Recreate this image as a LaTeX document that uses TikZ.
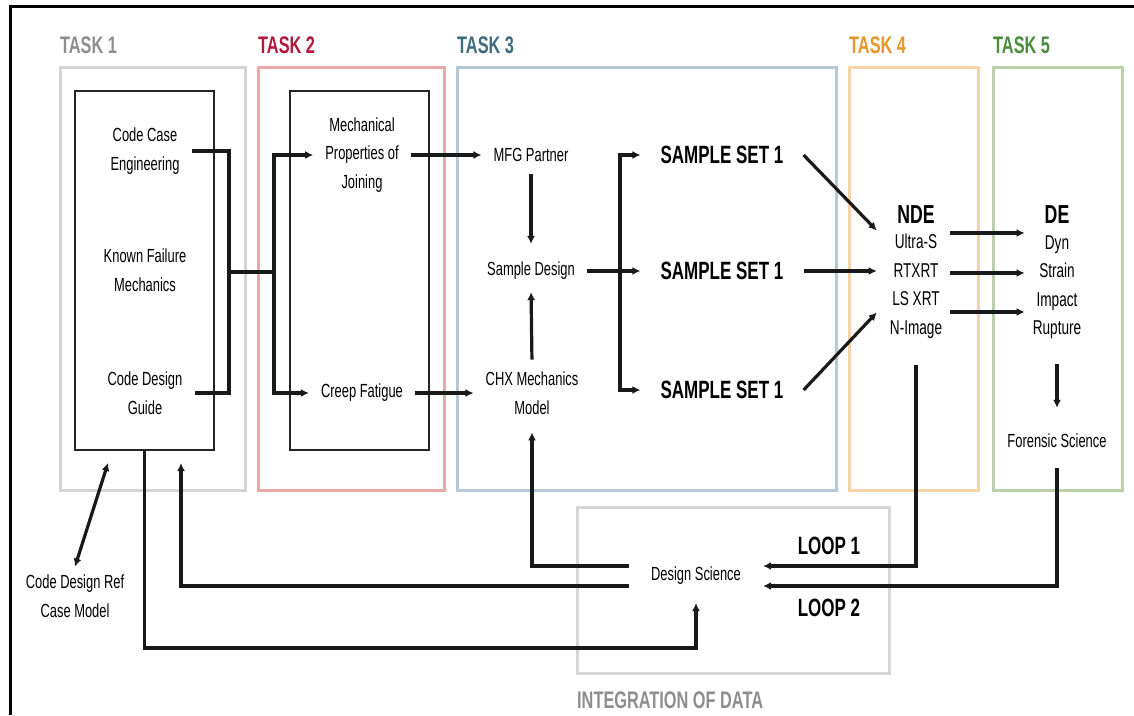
\documentclass[tikz,border=0pt]{standalone}
\usepackage{fontspec}
\setmainfont[FakeStretch=0.68]{Liberation Sans}
\usetikzlibrary{
    arrows.meta,
    calc,
    positioning,
}
\definecolor{TaskOneFg}{HTML}{8E8E8E}
\definecolor{TaskOneBg}{HTML}{D4D4D4}
\definecolor{TaskTwoFg}{HTML}{B3183D}
\definecolor{TaskTwoBg}{HTML}{EAA8A8}
\definecolor{TaskThreeFg}{HTML}{3E6B7E}
\definecolor{TaskThreeBg}{HTML}{B6C9D4}
\definecolor{TaskFourFg}{HTML}{E8962C}
\definecolor{TaskFourBg}{HTML}{F6D4A8}
\definecolor{TaskFiveFg}{HTML}{4B8B3B}
\definecolor{TaskFiveBg}{HTML}{BCD0AB}
\definecolor{DataFg}{HTML}{8E8E8E}
\definecolor{DataBg}{HTML}{D6D6D6}
\tikzstyle{taskbox}=[draw,rectangle,line width=3pt,outer sep=0pt]
\tikzstyle{tasklabel}=[anchor=base west,inner sep=0pt,font=\fontsize{24}{28}\selectfont\bfseries]
\tikzstyle{stage}=[draw=black!85,rectangle,line width=2pt,outer sep=0pt]
\tikzstyle{item}=[align=center,inner xsep=12pt,inner ysep=8pt,font=\fontsize{19}{28.5}\selectfont]
\tikzstyle{list}=[align=center,inner sep=8pt,font=\fontsize{20}{28.5}\selectfont]
\tikzstyle{sample}=[inner xsep=20pt,inner ysep=8pt,font=\fontsize{25}{30}\selectfont\bfseries]
\tikzstyle{head}=[inner sep=2pt,font=\fontsize{26}{30}\selectfont\bfseries]
\tikzstyle{loop}=[inner sep=2pt,font=\fontsize{25}{30}\selectfont\bfseries]
\tikzstyle{wire}=[line width=3.2pt,black!90]
\tikzstyle{flow}=[->,line width=3.2pt,black!90]
\tikzset{
    >={Latex[length=8pt,width=8pt]}
}
\newcommand{\Task}[4][]{%
    \node[taskbox,draw=#3Bg,#1] (#2) {};
    \node[tasklabel,text=#3Fg] at ([yshift=14pt]#2.north west) {#4};
}

\begin{document}
\begin{tikzpicture}[x=1pt,y=-1pt]
    \useasboundingbox (0,0) rectangle (1134,715);
    \draw[line width=3pt] (10,715) -- (10,6) -- (1134,6);

    % Task frames
    \Task[minimum width=185pt,minimum height=423pt,at={(152.5,278.5)}]{task1}{TaskOne}{TASK 1}
    \Task[minimum width=186pt,minimum height=423pt,at={(351,278.5)}]{task2}{TaskTwo}{TASK 2}
    \Task[minimum width=379pt,minimum height=423pt,at={(646.5,278.5)}]{task3}{TaskThree}{TASK 3}
    \Task[minimum width=129pt,minimum height=423pt,at={(913.5,278.5)}]{task4}{TaskFour}{TASK 4}
    \Task[minimum width=129pt,minimum height=423pt,at={(1057.5,278.5)}]{task5}{TaskFive}{TASK 5}
    \node[taskbox,draw=DataBg,minimum width=312pt,minimum height=166pt] (data) at (733,590) {};
    \node[tasklabel,text=DataFg] at ([yshift=-35pt]data.south west) {INTEGRATION OF DATA};

    \node[stage,minimum width=139pt,minimum height=359pt] (stage1) at (144.5,270.5) {};
    \node[stage,minimum width=139pt,minimum height=359pt] (stage2) at (359.5,270.5) {};

    % Task 1
    \node[item] (cce) at (145,151) {Code Case\\Engineering};
    \node[item] (kfm) at (145,270) {Known Failure\\Mechanics};
    \node[item] (cdg) at (145,393) {Code Design\\Guide};
    \node[item] (cdr) at (75,596) {Code Design Ref\\Case Model};

    % Task 2
    \node[item] (mpj) at (362,155) {Mechanical\\Properties of\\Joining};
    \node[item] (cf) at (362,393) {Creep Fatigue};

    % Task 3
    \node[item] (mfg) at (531,155) {MFG Partner};
    \node[item] (sd) at (531,271) {Sample Design};
    \node[item] (chx) at (532,393) {CHX Mechanics\\Model};
    \node[sample] (ss1) at (722,155) {SAMPLE SET 1};
    \node[sample] (ss2) at (722,271) {SAMPLE SET 1};
    \node[sample] (ss3) at (722,390) {SAMPLE SET 1};

    % Task 4 and 5
    \node[head] (nde) at (916,215) {NDE};
    \node[list] (ndelist) at (916,286.5) {Ultra-S\\RTXRT\\LS XRT\\N-Image};
    \node[head] (de) at (1057,215) {DE};
    \node[list] (delist) at (1057,287) {Dyn\\Strain\\Impact\\Rupture};
    \node[item] (fs) at (1057,441) {Forensic Science};

    % Integration
    \node[item,inner xsep=22pt,inner ysep=18pt] (ds) at (696,576) {Design Science};
    \node[loop] (loop1) at (829,546) {LOOP 1};
    \node[loop] (loop2) at (829,608) {LOOP 2};

    % Task 1 -> Task 2
    \coordinate (bus1) at (229,272);
    \coordinate (bus2) at (274,272);
    \draw[wire] (cce.east) -| (bus1) |- (cdg.east);
    \draw[wire] (bus1) -- (bus2);
    \draw[flow] (bus2) |- (mpj.west);
    \draw[flow] (bus2) |- (cf.west);

    % Task 2 -> Task 3
    \draw[flow] (mpj.east) -- (mpj.east -| mfg.west);
    \draw[flow] (cf.east) -- (cf.east -| chx.west);
    \draw[flow,shorten <=4pt,shorten >=10pt] (mfg.south) -- (sd.north);
    \draw[flow,shorten <=4pt,shorten >=4pt] (chx.north) -- (sd.south);
    \draw[flow] (sd.east) -- (sd.east -| ss2.west);
    \coordinate (fork) at (620,271);
    \draw[flow] (fork) |- (ss1.west);
    \draw[flow] (fork) |- (ss3.west);

    % samples -> NDE -> DE
    \draw[flow] (ss1.east) -- ([xshift=-5pt,yshift=56pt]ndelist.west);
    \draw[flow] (ss2.east) -- ([xshift=-5pt]ss2.east -| ndelist.west);
    \draw[flow] (ss3.east) -- ([xshift=-5pt,yshift=-26pt]ndelist.west);
    \foreach \dy in {53.5,13.5,-25.5}
        \draw[flow] ([yshift=\dy pt]ndelist.east) -- ([yshift=\dy pt]ndelist.east -| delist.west);
    \draw[flow,shorten <=17pt,shorten >=18pt] (delist.south) -- (fs.north);

    % loops
    \draw[flow,shorten <=18pt] (ndelist.south) |- ([yshift=10pt]ds.east);
    \draw[flow,shorten <=12pt] (fs.south) |- ([yshift=-10pt]ds.east);
    \draw[flow,shorten >=10pt] ([yshift=10pt]ds.west) -| (chx.south);
    \draw[flow,shorten >=13pt] ([yshift=-10pt]ds.west) -| ([xshift=36.5pt]stage1.south);
    \draw[flow] (stage1.south) -- ++(0,198) -| (ds.south);
    \draw[<->,wire] (cdr.north) -- ([xshift=-36.5pt,yshift=-13pt]stage1.south);
\end{tikzpicture}
\end{document}
